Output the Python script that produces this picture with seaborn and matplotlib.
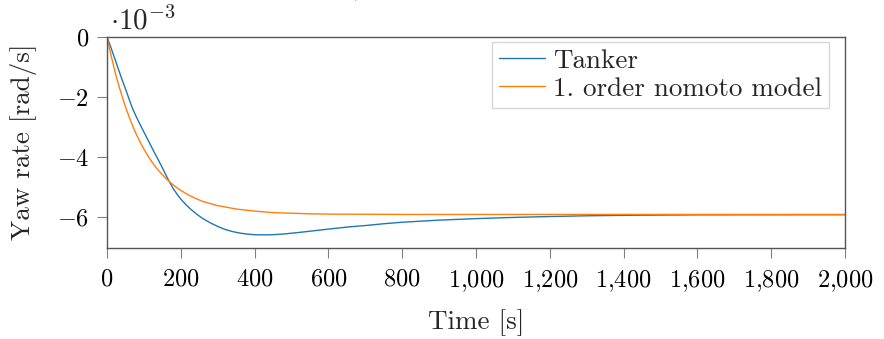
import numpy as np
import pandas as pd
import matplotlib
matplotlib.use("Agg")
import matplotlib.pyplot as plt
from matplotlib.ticker import FuncFormatter, FixedLocator
import seaborn as sns

# Yaw rate step response, values in 1e-3 rad/s
tanker_time = [0, 10, 20, 30, 40, 50, 60, 70, 80, 90, 100, 110, 120, 130, 140,
               150, 160, 170, 180, 190, 200, 215, 230, 245, 260, 280, 300, 320,
               340, 360, 380, 400, 424, 450, 480, 520, 570, 613, 660, 700, 750,
               800, 900, 1000, 1100, 1200, 1300, 1400, 1600, 2000]
tanker_yaw = [0.0, -0.33, -0.68, -1.04, -1.39, -1.72, -2.07, -2.40, -2.67,
              -2.92, -3.16, -3.40, -3.64, -3.88, -4.11, -4.35, -4.60, -4.84,
              -5.05, -5.23, -5.39, -5.59, -5.76, -5.91, -6.04, -6.18, -6.30,
              -6.40, -6.47, -6.52, -6.555, -6.575, -6.58, -6.575, -6.55,
              -6.50, -6.43, -6.37, -6.31, -6.27, -6.21, -6.16, -6.09, -6.04,
              -6.00, -5.97, -5.945, -5.93, -5.915, -5.91]

nomoto_time = [0, 5, 10, 15, 20, 25, 35, 50, 60, 71, 80, 90, 100, 117, 130,
               140, 160, 171, 190, 200, 220, 230, 252, 260, 280, 300, 306, 350,
               400, 450, 500, 550, 600, 700, 800, 1000, 1200, 1500, 2000]
nomoto_yaw = [0.0, -0.29, -0.56, -0.82, -1.07, -1.31, -1.74, -2.32, -2.66,
              -3.00, -3.25, -3.50, -3.73, -4.07, -4.30, -4.44, -4.71, -4.83,
              -5.02, -5.10, -5.25, -5.31, -5.43, -5.47, -5.54, -5.61, -5.62,
              -5.72, -5.79, -5.84, -5.86, -5.88, -5.89, -5.895, -5.90, -5.90,
              -5.90, -5.90, -5.90]

series_names = ["Tanker", "1. order nomoto model"]
series_colors = ["#1f77b4", "#ff7f0e"]

x_ticks = [0, 200, 400, 600, 800, 1000, 1200, 1400, 1600, 1800, 2000]
y_ticks = [0, -2, -4, -6]

df = pd.concat([
    pd.DataFrame({"Time": tanker_time, "Yaw": tanker_yaw, "Model": series_names[0]}),
    pd.DataFrame({"Time": nomoto_time, "Yaw": nomoto_yaw, "Model": series_names[1]}),
], ignore_index=True)

sns.set_theme(style="white")
plt.rcParams.update({
    "font.family": "serif",
    "font.serif": ["cmr10", "DejaVu Serif"],
    "mathtext.fontset": "cm",
    "axes.unicode_minus": False,
    "axes.formatter.use_mathtext": True,
})

W, H = 884, 339
fig = plt.figure(figsize=(W / 100, H / 100), dpi=100)
left, right, top, bottom = 107, 845, 37, 247.5
ax = fig.add_axes([left / W, 1 - bottom / H, (right - left) / W, (bottom - top) / H])

sns.lineplot(data=df, x="Time", y="Yaw", hue="Model", hue_order=series_names,
             palette=series_colors, linewidth=1.0, ax=ax, legend=False,
             estimator=None, sort=False)

ax.set_xlim(0, 2000)
ax.set_ylim(-7, 0)
ax.xaxis.set_major_locator(FixedLocator(x_ticks))
ax.yaxis.set_major_locator(FixedLocator(y_ticks))


def fmt_x(v, pos):
    n = int(round(v))
    s = f"{n:,}".replace(",", "{,}")
    return f"${s}$"


def fmt_y(v, pos):
    n = int(round(v))
    return f"${n}$"


ax.xaxis.set_major_formatter(FuncFormatter(fmt_x))
ax.yaxis.set_major_formatter(FuncFormatter(fmt_y))

tick_fs = 17.5
label_fs = 19.5
legend_fs = 19.5
ax.tick_params(axis="both", which="major", direction="out", length=7,
               width=0.8, color="#808080", labelsize=tick_fs,
               bottom=True, left=True, top=False, right=False,
               labelcolor="black")
ax.tick_params(axis="x", pad=8)
ax.tick_params(axis="y", pad=6)
for sp in ax.spines.values():
    sp.set_color("#555555")
    sp.set_linewidth(1.0)
    sp.set_visible(True)

ax.set_xlabel("Time [s]", fontsize=label_fs, labelpad=11)
ax.set_ylabel("Yaw rate [rad/s]", fontsize=label_fs, labelpad=14)

# scale factor shown above the y axis
fig.text(110 / W, 1 - 30 / H, r"$\cdot 10^{-3}$", fontsize=21,
         ha="left", va="baseline")

# panel caption sitting just above the canvas
fig.text(333 / W, 1 + 6 / H, "(a) Yaw rate step of tanker", fontsize=17,
         ha="left", va="baseline")

handles = [plt.Line2D([], [], color=c, lw=1.0) for c in series_colors]
leg = ax.legend(handles, series_names, loc="upper right",
                bbox_to_anchor=(829 / W, 1 - 42 / H),
                bbox_transform=fig.transFigure, borderaxespad=0,
                fontsize=legend_fs, frameon=True, fancybox=False,
                handlelength=1.7, handletextpad=0.3, labelspacing=0.15,
                borderpad=0.25)
leg.get_frame().set_edgecolor("#cccccc")
leg.get_frame().set_linewidth(1.0)

fig.savefig("out.png", dpi=100)
